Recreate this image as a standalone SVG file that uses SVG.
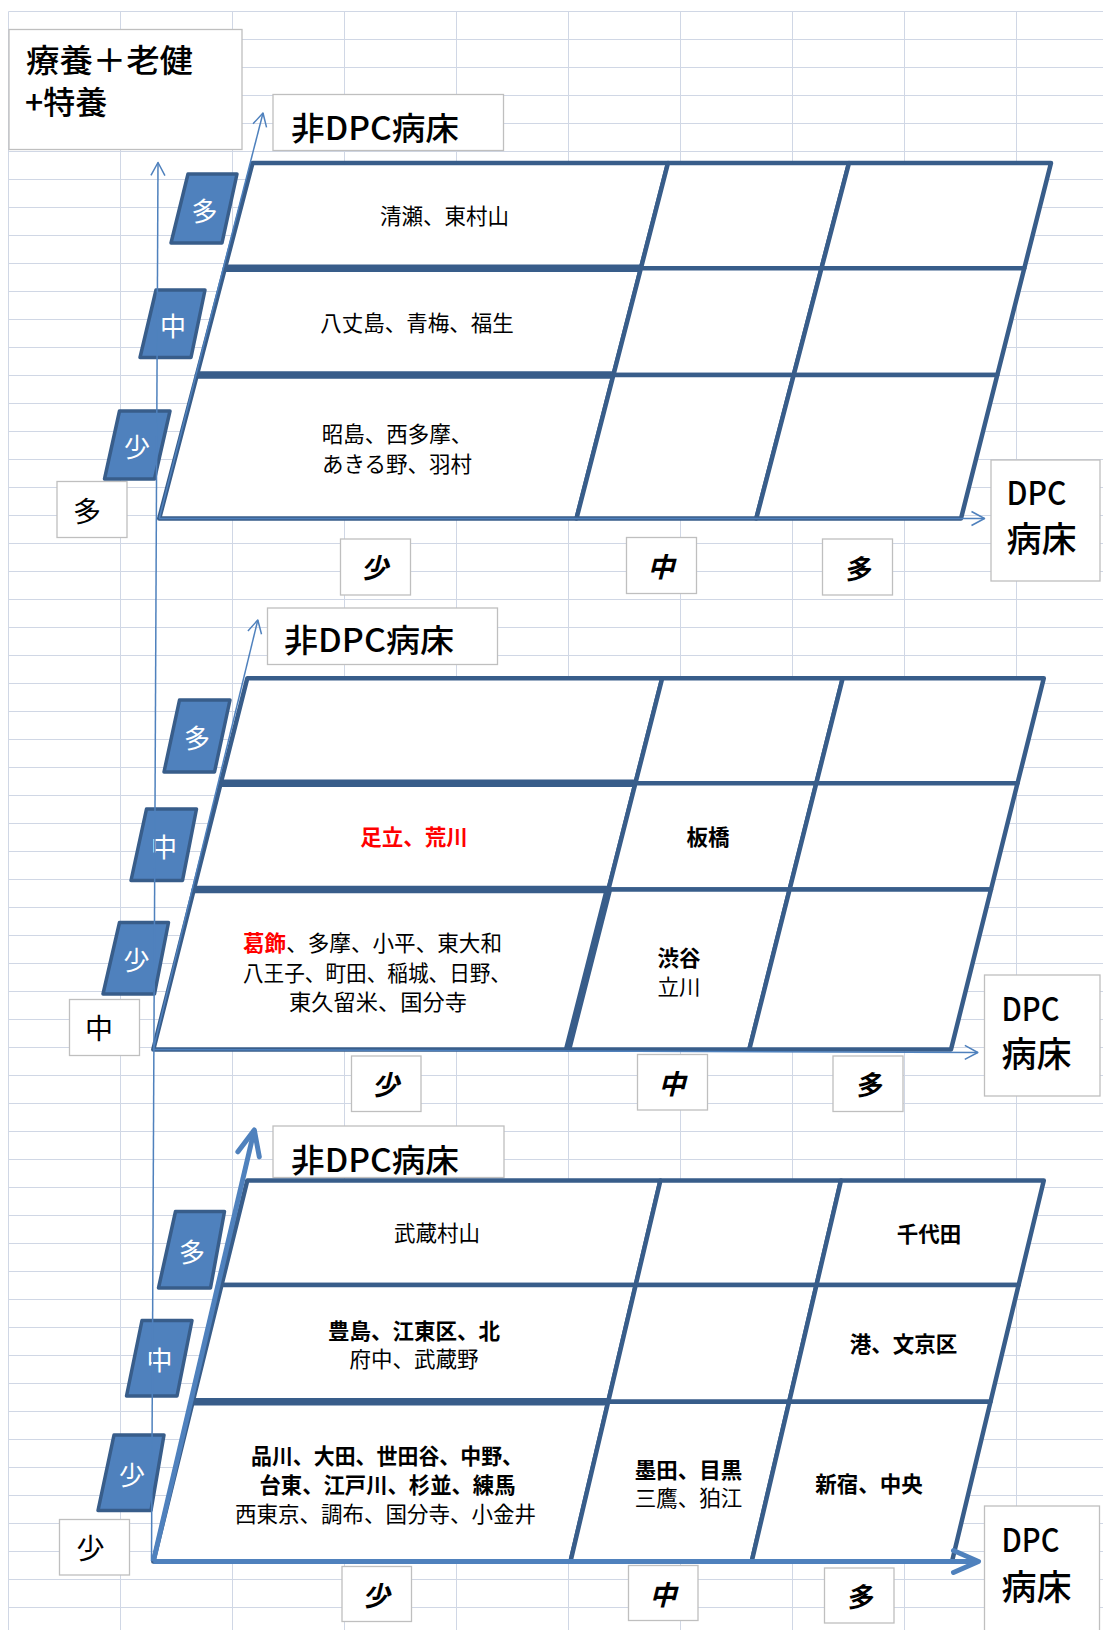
<svg xmlns="http://www.w3.org/2000/svg" width="1103" height="1630" viewBox="0 0 1103 1630">
<defs>
<style>
text{font-family:'Noto Sans CJK JP','Noto Sans CJK SC',sans-serif;dominant-baseline:central;fill:#000}
.grid{stroke:#D0D7E5;stroke-width:1;fill:none}
.cell{fill:#fff;stroke:#385D8A;stroke-width:4.5;stroke-linejoin:round}
.thick{stroke:#385D8A;stroke-width:7.5;fill:none}
.tag{fill:#4F81BD;stroke:#385D8A;stroke-width:3.5;stroke-linejoin:round}
.box{fill:#fff;stroke:#BFBFBF;stroke-width:1.3}
.ax{stroke:#4F81BD;stroke-width:1.5;fill:none}
.axT{stroke:#4F81BD;stroke-width:5;fill:none}
.c{font-size:21.5px;text-anchor:middle}
.b{font-weight:700}
.red{fill:#FF0000}
.tagt{font-size:26px;fill:#fff;text-anchor:middle}
.lab{font-size:28px;text-anchor:middle}
.blab{font-size:27px;font-weight:700;font-style:italic;text-anchor:middle}
.big{font-size:32px;font-weight:500}
.dpc{font-size:32px;font-weight:500}
.bed{font-size:35px;font-weight:500}
</style>
<marker id="thin" markerUnits="userSpaceOnUse" viewBox="-16 -10 20 20" markerWidth="20" markerHeight="20" refX="0" refY="0" orient="auto" overflow="visible">
<path d="M-13,-7 L0,0 L-13,7" fill="none" stroke="#4F81BD" stroke-width="1.5" stroke-linejoin="round"/>
</marker>
<marker id="thick" markerUnits="userSpaceOnUse" viewBox="-30 -15 35 30" markerWidth="35" markerHeight="30" refX="0" refY="0" orient="auto" overflow="visible">
<path d="M-25,-11 L0,0 L-25,11" fill="none" stroke="#4F81BD" stroke-width="5" stroke-linecap="round" stroke-linejoin="round"/>
</marker>
</defs>
<rect x="0" y="0" width="1103" height="1630" fill="#fff"/>
<g id="sheet-grid">
<path class="grid" d="M8.5,11.5V1630M120.5,11.5V1630M232.5,11.5V1630M344.5,11.5V1630M456.5,11.5V1630M568.5,11.5V1630M680.5,11.5V1630M792.5,11.5V1630M904.5,11.5V1630M1016.5,11.5V1630"/>
<path class="grid" d="M8.5,11.5H1103M8.5,39.5H1103M8.5,67.5H1103M8.5,95.5H1103M8.5,123.5H1103M8.5,151.5H1103M8.5,179.5H1103M8.5,207.5H1103M8.5,235.5H1103M8.5,263.5H1103M8.5,291.5H1103M8.5,319.5H1103M8.5,347.5H1103M8.5,375.5H1103M8.5,403.5H1103M8.5,431.5H1103M8.5,459.5H1103M8.5,487.5H1103M8.5,515.5H1103M8.5,543.5H1103M8.5,571.5H1103M8.5,599.5H1103M8.5,627.5H1103M8.5,655.5H1103M8.5,683.5H1103M8.5,711.5H1103M8.5,739.5H1103M8.5,767.5H1103M8.5,795.5H1103M8.5,823.5H1103M8.5,851.5H1103M8.5,879.5H1103M8.5,907.5H1103M8.5,935.5H1103M8.5,963.5H1103M8.5,991.5H1103M8.5,1019.5H1103M8.5,1047.5H1103M8.5,1075.5H1103M8.5,1103.5H1103M8.5,1131.5H1103M8.5,1159.5H1103M8.5,1187.5H1103M8.5,1215.5H1103M8.5,1243.5H1103M8.5,1271.5H1103M8.5,1299.5H1103M8.5,1327.5H1103M8.5,1355.5H1103M8.5,1383.5H1103M8.5,1411.5H1103M8.5,1439.5H1103M8.5,1467.5H1103M8.5,1495.5H1103M8.5,1523.5H1103M8.5,1551.5H1103M8.5,1579.5H1103M8.5,1607.5H1103"/>
</g>

<!-- Header / axis label boxes -->
<g id="title-box"><rect class="box" x="9" y="29.5" width="233" height="120"/>
<text class="big" x="26" y="58" textLength="167" lengthAdjust="spacingAndGlyphs">療養＋老健</text>
<text class="big" x="25" y="100">+特養</text></g>

<g id="nondpc-1"><rect class="box" x="273" y="94.5" width="230.5" height="56"/><text class="big" x="291" y="126" textLength="168" lengthAdjust="spacingAndGlyphs">非DPC病床</text></g>
<g id="nondpc-2"><rect class="box" x="267.5" y="608" width="230" height="56.5"/><text class="big" x="284" y="638" textLength="170" lengthAdjust="spacingAndGlyphs">非DPC病床</text></g>
<g id="nondpc-3"><rect class="box" x="273" y="1126" width="231" height="51.5"/><text class="big" x="291" y="1158" textLength="168" lengthAdjust="spacingAndGlyphs">非DPC病床</text></g>

<g id="dpc-1"><rect class="box" x="991" y="460" width="109" height="121"/><text class="dpc" x="1006.5" y="491" textLength="60" lengthAdjust="spacingAndGlyphs">DPC</text><text class="bed" x="1006.5" y="536.5" textLength="70" lengthAdjust="spacingAndGlyphs">病床</text></g>
<g id="dpc-2"><rect class="box" x="984.5" y="975" width="115.5" height="121"/><text class="dpc" x="1001.5" y="1006.5" textLength="58" lengthAdjust="spacingAndGlyphs">DPC</text><text class="bed" x="1001.5" y="1051.5" textLength="70" lengthAdjust="spacingAndGlyphs">病床</text></g>
<g id="dpc-3"><rect class="box" x="984.5" y="1506" width="115" height="130"/><text class="dpc" x="1001.5" y="1537.5" textLength="58" lengthAdjust="spacingAndGlyphs">DPC</text><text class="bed" x="1001.5" y="1584" textLength="70" lengthAdjust="spacingAndGlyphs">病床</text></g>

<!-- level boxes for the care axis -->
<g id="care-many"><rect class="box" x="57" y="481.5" width="70" height="56"/><text class="lab" x="87" y="509.5">多</text></g>
<g id="care-mid"><rect class="box" x="69.5" y="999.5" width="70" height="56"/><text class="lab" x="99" y="1027">中</text></g>
<g id="care-few"><rect class="box" x="59.5" y="1519.5" width="70" height="55.5"/><text class="lab" x="90.5" y="1547">少</text></g>

<!-- DPC-axis level boxes -->
<g id="p1-x-few"><rect class="box" x="340.5" y="539" width="70" height="56"/><text class="blab" x="374.5" y="566">少</text></g>
<g id="p1-x-mid"><rect class="box" x="626.5" y="537.5" width="70" height="56"/><text class="blab" x="661" y="565.5">中</text></g>
<g id="p1-x-many"><rect class="box" x="822.5" y="539" width="70" height="56"/><text class="blab" x="857" y="567">多</text></g>
<g id="p2-x-few"><rect class="box" x="351.5" y="1056" width="69.5" height="55.5"/><text class="blab" x="385.5" y="1083.5">少</text></g>
<g id="p2-x-mid"><rect class="box" x="637.5" y="1054.5" width="70" height="55.5"/><text class="blab" x="672" y="1082">中</text></g>
<g id="p2-x-many"><rect class="box" x="833" y="1056" width="70" height="55.5"/><text class="blab" x="868" y="1083.5">多</text></g>
<g id="p3-x-few"><rect class="box" x="342" y="1566.5" width="69.5" height="55"/><text class="blab" x="376" y="1594">少</text></g>
<g id="p3-x-mid"><rect class="box" x="628.5" y="1565.5" width="69.5" height="55"/><text class="blab" x="663" y="1593">中</text></g>
<g id="p3-x-many"><rect class="box" x="824.5" y="1568" width="69.5" height="55"/><text class="blab" x="859" y="1595.5">多</text></g>

<!-- Panel 1 (療養+老健+特養: 多) -->
<g id="panel-1">
<g id="p1-r1c1"><polygon class="cell" points="252.5,163 668,163 640.9,268.3 224.9,268.3"/><text class="c" x="444.5" y="214.5">清瀬、東村山</text></g>
<g id="p1-r1c2"><polygon class="cell" points="668,163 849,163 821.5,268.3 640.9,268.3"/></g>
<g id="p1-r1c3"><polygon class="cell" points="849,163 1051,163 1024.3,268.3 821.5,268.3"/></g>
<g id="p1-r2c1"><polygon class="cell" points="224.9,268.3 640.9,268.3 613.4,375 196.9,375"/><text class="c" x="417" y="321">八丈島、青梅、福生</text></g>
<g id="p1-r2c2"><polygon class="cell" points="640.9,268.3 821.5,268.3 793.7,375 613.4,375"/></g>
<g id="p1-r2c3"><polygon class="cell" points="821.5,268.3 1024.3,268.3 997.3,375 793.7,375"/></g>
<g id="p1-r3c1"><polygon class="cell" points="196.9,375 613.4,375 576.5,518.5 159.2,518.5"/><text class="c" x="397" y="432.5">昭島、西多摩、</text><text class="c" x="397" y="462">あきる野、羽村</text></g>
<g id="p1-r3c2"><polygon class="cell" points="613.4,375 793.7,375 756.3,518.5 576.5,518.5"/></g>
<g id="p1-r3c3"><polygon class="cell" points="793.7,375 997.3,375 961,518.5 756.3,518.5"/></g>
<path class="thick" d="M224.9,268.3H640.9M196.9,375H613.4"/>
</g>

<!-- Panel 2 (中) -->
<g id="panel-2">
<g id="p2-r1c1"><polygon class="cell" points="247.3,678.3 662.2,678.3 635.4,783.3 220.7,783.3"/></g>
<g id="p2-r1c2"><polygon class="cell" points="662.2,678.3 842.7,678.3 816.3,783.3 635.4,783.3"/></g>
<g id="p2-r1c3"><polygon class="cell" points="842.7,678.3 1043.8,678.3 1017.5,783.3 816.3,783.3"/></g>
<g id="p2-r2c1"><polygon class="cell" points="220.7,783.3 635.4,783.3 608.4,889.5 193.8,889.5"/><text class="c b red" x="414" y="835">足立、荒川</text></g>
<g id="p2-r2c2"><polygon class="cell" points="635.4,783.3 816.3,783.3 789.6,889.5 608.4,889.5"/><text class="c b" x="708" y="835">板橋</text></g>
<g id="p2-r2c3"><polygon class="cell" points="816.3,783.3 1017.5,783.3 991,889.5 789.6,889.5"/></g>
<g id="p2-r3c1"><polygon class="cell" points="193.8,889.5 608.4,889.5 567.6,1049.5 153.3,1049.5"/>
<text class="c" x="372.5" y="941" textLength="259" lengthAdjust="spacingAndGlyphs"><tspan class="b red">葛飾</tspan>、多摩、小平、東大和</text>
<text class="c" x="377" y="971.5" textLength="268" lengthAdjust="spacingAndGlyphs">八王子、町田、稲城、日野、</text>
<text class="c" x="378" y="1000" textLength="178" lengthAdjust="spacingAndGlyphs">東久留米、国分寺</text></g>
<g id="p2-r3c2"><polygon class="cell" points="608.4,889.5 789.6,889.5 749.3,1049.5 567.6,1049.5"/><text class="c b" x="679" y="956">渋谷</text><text class="c" x="679" y="985.5">立川</text></g>
<g id="p2-r3c3"><polygon class="cell" points="789.6,889.5 991,889.5 951,1049.5 749.3,1049.5"/></g>
<path class="thick" d="M220.7,783.3H635.4M193.8,889.5H608.4M608.4,889.5L567.6,1049.5"/>
</g>

<!-- Panel 3 (少) -->
<g id="panel-3">
<g id="p3-r1c1"><polygon class="cell" points="247.3,1180.5 660.4,1180.5 635.7,1285 221.5,1285"/><text class="c" x="437" y="1231.5">武蔵村山</text></g>
<g id="p3-r1c2"><polygon class="cell" points="660.4,1180.5 841,1180.5 816.5,1285 635.7,1285"/></g>
<g id="p3-r1c3"><polygon class="cell" points="841,1180.5 1043.8,1180.5 1018.6,1285 816.5,1285"/><text class="c b" x="929" y="1232.5">千代田</text></g>
<g id="p3-r2c1"><polygon class="cell" points="221.5,1285 635.7,1285 608.2,1401.7 192.7,1401.7"/><text class="c b" x="414" y="1329">豊島、江東区、北</text><text class="c" x="414" y="1357.5">府中、武蔵野</text></g>
<g id="p3-r2c2"><polygon class="cell" points="635.7,1285 816.5,1285 789.2,1401.7 608.2,1401.7"/></g>
<g id="p3-r2c3"><polygon class="cell" points="816.5,1285 1018.6,1285 990.5,1401.7 789.2,1401.7"/><text class="c b" x="903.5" y="1342.5">港、文京区</text></g>
<g id="p3-r3c1"><polygon class="cell" points="192.7,1401.7 608.2,1401.7 570.5,1561.5 153.3,1561.5"/>
<text class="c b" x="387" y="1454" textLength="272" lengthAdjust="spacingAndGlyphs">品川、大田、世田谷、中野、</text>
<text class="c b" x="387.5" y="1483.3" textLength="256" lengthAdjust="spacingAndGlyphs">台東、江戸川、杉並、練馬</text>
<text class="c" x="385.5" y="1512.5" textLength="301" lengthAdjust="spacingAndGlyphs">西東京、調布、国分寺、小金井</text></g>
<g id="p3-r3c2"><polygon class="cell" points="608.2,1401.7 789.2,1401.7 751.7,1561.5 570.5,1561.5"/><text class="c b" x="688.5" y="1468">墨田、目黒</text><text class="c" x="688.5" y="1496.7">三鷹、狛江</text></g>
<g id="p3-r3c3"><polygon class="cell" points="789.2,1401.7 990.5,1401.7 952,1561.5 751.7,1561.5"/><text class="c b" x="869" y="1482.3">新宿、中央</text></g>
<path class="thick" d="M192.7,1401.7H608.2"/>
</g>

<!-- Row tags (非DPC axis levels) -->
<g id="p1-tag-many"><polygon class="tag" points="188,174 237,174 222,243 171,243"/><text class="tagt" x="204.5" y="209">多</text></g>
<g id="p1-tag-mid"><polygon class="tag" points="156,290 205,290 191,357.5 140,357.5"/><text class="tagt" x="173" y="324">中</text></g>
<g id="p1-tag-few"><polygon class="tag" points="119.5,411 170,411 154.5,479 104.5,479"/><text class="tagt" x="137" y="445">少</text></g>
<g id="p2-tag-many"><polygon class="tag" points="179.5,700 230,700 214.5,772 164,772"/><text class="tagt" x="197" y="736">多</text></g>
<g id="p2-tag-mid"><polygon class="tag" points="146.5,809 196.5,809 182.5,880.5 131,880.5"/><text class="tagt" x="164" y="845">中</text></g>
<g id="p2-tag-few"><polygon class="tag" points="119.5,922.5 168.5,922.5 154.5,994 103,994"/><text class="tagt" x="136.5" y="958.5">少</text></g>
<g id="p3-tag-many"><polygon class="tag" points="175.5,1211.5 224.5,1211.5 210.5,1288 158.5,1288"/><text class="tagt" x="192" y="1250">多</text></g>
<g id="p3-tag-mid"><polygon class="tag" points="142,1320.5 192,1320.5 177,1396 126.5,1396"/><text class="tagt" x="159.5" y="1358.5">中</text></g>
<g id="p3-tag-few"><polygon class="tag" points="114,1435 164,1435 151,1510.5 98,1510.5"/><text class="tagt" x="132" y="1473">少</text></g>

<!-- Connectors: axes -->
<g id="connectors">
<path class="ax" d="M151.5,1561 L158,162.5" marker-end="url(#thin)"/>
<path class="ax" d="M159.2,518.5 L263,113" marker-end="url(#thin)"/>
<path class="ax" d="M159.2,518.5 L984.5,518.5" marker-end="url(#thin)"/>
<path class="ax" d="M153.3,1049.5 L257.8,620" marker-end="url(#thin)"/>
<path class="ax" d="M153.3,1049.5 L977.8,1052.5" marker-end="url(#thin)"/>
<path class="axT" d="M153.3,1561.5 L254.3,1130" marker-end="url(#thick)"/>
<path class="axT" d="M153.3,1561.5 L978.5,1561.5" marker-end="url(#thick)"/>
</g>
</svg>
